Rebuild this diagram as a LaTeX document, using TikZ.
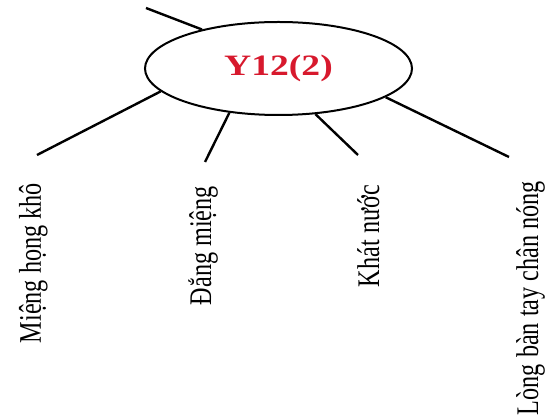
\documentclass[tikz,border=0pt]{standalone}
\usepackage{fontspec}
\setmainfont{Liberation Serif}
\usetikzlibrary{shapes.geometric}
\definecolor{titlered}{RGB}{215,25,45}
\tikzset{
  conn/.style={line width=2.4pt},
  hub/.style={ellipse, draw, line width=2pt, minimum width=267pt, minimum height=93pt, inner sep=0pt},
  leaf/.style={rotate=90, anchor=base east, inner sep=0pt, font=\fontsize{24.2}{26}\selectfont}
}
\begin{document}
\begin{tikzpicture}[x=1pt,y=-1pt]
\useasboundingbox (0,0) rectangle (547,419);
\node[hub] (e) at (278.5,68.5) {\scalebox{1.27}[1]{\fontsize{29.6}{32}\selectfont\bfseries\color{titlered}Y12(2)}};
\coordinate (t0) at (146,8);
\coordinate (t1) at (37,155);
\coordinate (t2) at (205,162);
\coordinate (t3) at (358,155);
\coordinate (t4) at (509,157);
\draw[conn] (e.153) -- (t0);
\draw[conn] (e.191.5) -- (t1);
\draw[conn] (e.222.5) -- (t2);
\draw[conn] (e.309.4) -- (t3);
\draw[conn] (e.345) -- (t4);
\node[leaf] (l1) at (41,183) {\scalebox{1}[1.3]{Miệng họng khô}};
\node[leaf] (l2) at (211,186) {\scalebox{1}[1.3]{Đắng miệng}};
\node[leaf] (l3) at (379,185) {\scalebox{1}[1.3]{Khát nước}};
\node[leaf] (l4) at (538,181) {\scalebox{1}[1.3]{Lòng bàn tay chân nóng}};
\end{tikzpicture}
\end{document}
